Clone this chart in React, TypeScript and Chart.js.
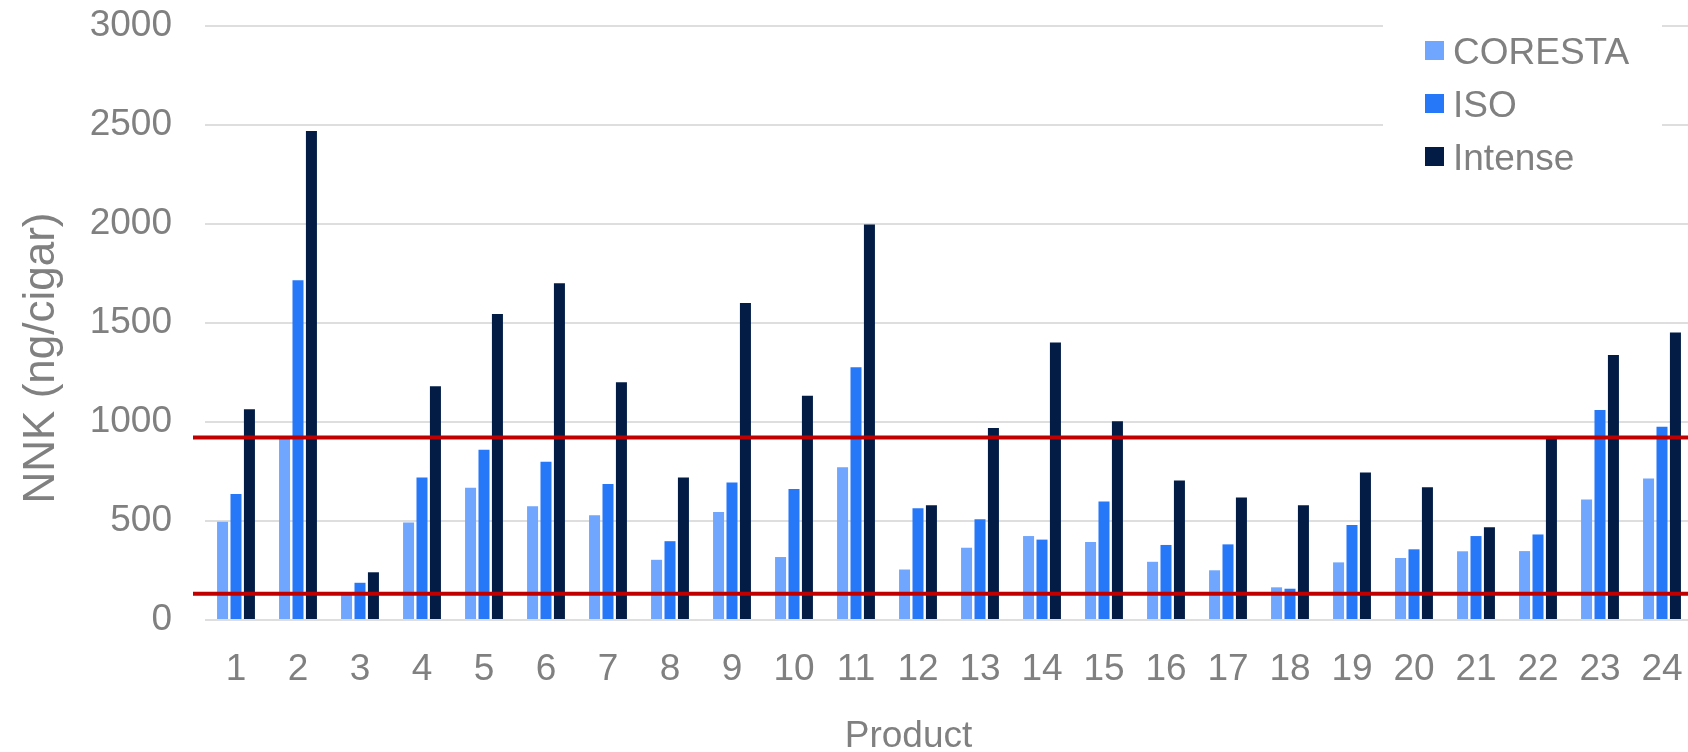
import React, { useEffect, useRef } from 'react';
import { Chart, registerables } from 'chart.js';

Chart.register(...registerables);

const products = ['1', '2', '3', '4', '5', '6', '7', '8', '9', '10', '11', '12', '13', '14', '15', '16', '17', '18', '19', '20', '21', '22', '23', '24'];
const seriesNames = ['CORESTA', 'ISO', 'Intense'];
const coresta = [496, 915, 128, 493, 668, 574, 529, 304, 545, 318, 772, 255, 365, 424, 394, 294, 251, 165, 291, 313, 347, 348, 609, 715];
const iso = [636, 1716, 188, 720, 860, 799, 687, 398, 695, 661, 1277, 565, 509, 406, 599, 379, 382, 158, 480, 357, 424, 432, 1060, 976];
const intense = [1064, 2470, 241, 1181, 1546, 1701, 1201, 720, 1601, 1133, 1997, 580, 970, 1401, 1004, 705, 619, 579, 745, 671, 468, 920, 1338, 1452];
const referenceLines = [922, 133];
const yTicks = [0, 500, 1000, 1500, 2000, 2500, 3000];
const yTitle = 'NNK (ng/cigar)';
const xTitle = 'Product';

const colors = ['#70A6FD', '#2778F9', '#021C46'];
const textColor = '#808080';
const FONT = "'Liberation Sans', Arial, sans-serif";

const overlayPlugin = {
  id: 'overlay',
  afterDatasetsDraw(chart: any) {
    const { ctx, chartArea } = chart;
    const y = chart.scales.y;
    ctx.save();
    ctx.strokeStyle = '#C00000';
    ctx.lineWidth = 4;
    referenceLines.forEach((v) => {
      const py = y.getPixelForValue(v);
      ctx.beginPath();
      ctx.moveTo(chartArea.left - 12, py);
      ctx.lineTo(chartArea.right + 20, py);
      ctx.stroke();
    });
    ctx.restore();
  },
  afterDraw(chart: any) {
    const { ctx, chartArea } = chart;
    ctx.save();
    // legend box
    const boxLeft = chartArea.right - 310;
    ctx.fillStyle = '#ffffff';
    ctx.fillRect(boxLeft, chartArea.top - 8, 279, 170);
    chart.data.datasets.forEach((ds: any, i: number) => {
      const top = chartArea.top + 15 + 53 * i;
      ctx.fillStyle = ds.backgroundColor;
      ctx.fillRect(chartArea.right - 268, top, 19, 19);
      ctx.fillStyle = textColor;
      ctx.font = `37px ${FONT}`;
      ctx.textAlign = 'left';
      ctx.textBaseline = 'alphabetic';
      ctx.fillText(ds.label, chartArea.right - 240, top + 22.5);
    });
    // x title
    ctx.fillStyle = textColor;
    ctx.font = `37px ${FONT}`;
    ctx.textAlign = 'center';
    ctx.textBaseline = 'alphabetic';
    ctx.fillText(xTitle, 908.5, 747);
    // y title
    ctx.translate(53.5, 358);
    ctx.rotate(-Math.PI / 2);
    ctx.font = `44px ${FONT}`;
    ctx.fillText(yTitle, 0, 0);
    ctx.restore();
  },
};

export default function App() {
  const ref = useRef<HTMLCanvasElement>(null);
  useEffect(() => {
    document.body.style.margin = '0';
    const chart = new Chart(ref.current!, {
      type: 'bar',
      data: {
        labels: products,
        datasets: [
          { label: seriesNames[0], data: coresta, backgroundColor: colors[0] },
          { label: seriesNames[1], data: iso, backgroundColor: colors[1] },
          { label: seriesNames[2], data: intense, backgroundColor: colors[2] },
        ],
      },
      options: {
        responsive: false,
        animation: false,
        devicePixelRatio: 1,
        layout: { padding: { left: 0, top: 26, right: 7, bottom: 0 } },
        datasets: { bar: { categoryPercentage: 0.65, barPercentage: 0.82 } },
        plugins: { legend: { display: false }, tooltip: { enabled: false } },
        scales: {
          x: {
            grid: { display: false, drawTicks: false },
            border: { display: false },
            ticks: { color: textColor, font: { family: FONT, size: 37 }, padding: 28, maxRotation: 0, autoSkip: false },
            afterFit: (s: any) => { s.height = 132; s.paddingLeft = 0; s.paddingRight = 0; },
          },
          y: {
            min: 0,
            max: 3000,
            afterBuildTicks: (s: any) => { s.ticks = yTicks.map((v) => ({ value: v })); },
            grid: { color: '#DEDEDE', lineWidth: 2, drawTicks: false },
            border: { display: false },
            ticks: { color: textColor, font: { family: FONT, size: 37 }, padding: 33, callback: (v: any) => String(v) },
            afterFit: (s: any) => { s.width = 205; s.paddingTop = 0; s.paddingBottom = 0; },
          },
        },
      },
      plugins: [overlayPlugin],
    });
    return () => chart.destroy();
  }, []);
  return (
    <div style={{ position: 'fixed', left: 0, top: 0, width: 1688, height: 752, overflow: 'hidden', background: '#fff' }}>
      <canvas ref={ref} width={1700} height={752} style={{ display: 'block' }} />
    </div>
  );
}
